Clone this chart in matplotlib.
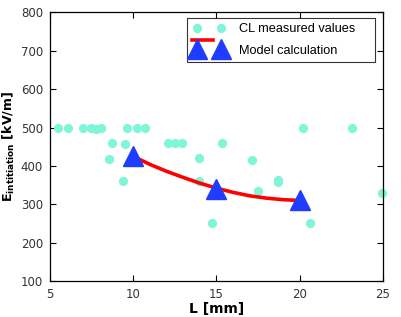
import matplotlib
matplotlib.use("Agg")
import matplotlib.pyplot as plt
from matplotlib.lines import Line2D
from matplotlib.legend_handler import HandlerLine2D, HandlerTuple

# Measured values (CL)
meas_L = [5.5, 6.1, 7.0, 7.45, 7.75, 8.05, 9.6, 10.2, 10.7, 20.2, 23.15,
          8.75, 9.5, 12.1, 12.5, 12.9, 15.35,
          8.55, 9.4, 10.0, 13.95, 13.95, 14.7, 20.6, 17.15, 17.5, 18.7, 18.7, 24.95]
meas_E = [500, 500, 500, 500, 495, 500, 500, 500, 500, 500, 500,
          460, 457, 460, 460, 460, 460,
          418, 360, 415, 420, 361, 250, 250, 415, 335, 363, 358, 330]

# Model calculation points
model_L = [10, 15, 20]
model_E = [425, 340, 310]

# Model curve
curve_L = [10, 11, 12, 13, 14, 15, 16, 17, 18, 19, 20]
curve_E = [425, 404, 386, 370, 355, 342, 331, 322, 316, 312, 310]

legend_labels = ["CL measured values", "Model calculation"]
xticks = [5, 10, 15, 20, 25]
yticks = [100, 200, 300, 400, 500, 600, 700, 800]

fig = plt.figure(figsize=(4.02, 3.17), dpi=100)
ax = fig.add_axes([0.1244, 0.1136, 0.8283, 0.847])

cyan = "#7ff6d8"
blue = "#1f3cff"

ax.plot(meas_L, meas_E, linestyle="none", marker="o", markersize=5.6,
        color=cyan, markeredgecolor=cyan, zorder=2, clip_on=False)
ax.plot(curve_L, curve_E, color="#ff0000", linewidth=2.6, zorder=3,
        solid_capstyle="butt")
ax.plot(model_L, model_E, linestyle="none", marker="^", markersize=14,
        color=blue, markeredgecolor=blue, zorder=4)

ax.set_xlim(5, 25)
ax.set_ylim(100, 800)
ax.set_xticks(xticks)
ax.set_yticks(yticks)
ax.tick_params(direction="in", top=True, right=True, length=4, width=0.8,
               labelsize=8.5, labelcolor="#333333", pad=5)
for sp in ax.spines.values():
    sp.set_linewidth(0.9)
    sp.set_color("black")

ax.set_xlabel("L [mm]", fontsize=10, fontweight="bold", labelpad=1)
ax.set_ylabel(r"E$_{\mathbf{intitiation}}$ [kV/m]", fontsize=9.1,
              fontweight="bold", labelpad=3)


class HandlerShiftedLine(HandlerLine2D):
    def create_artists(self, legend, orig_handle, xdescent, ydescent,
                       width, height, fontsize, trans):
        arts = super().create_artists(legend, orig_handle, xdescent + 3,
                                      ydescent - 14, width - 3, height,
                                      fontsize, trans)
        return arts


h1 = Line2D([], [], linestyle="none", marker="o", markersize=5.6,
            color=cyan, markeredgecolor=cyan)
h_line = Line2D([], [], color="#ff0000", linewidth=2.6)
h_tri = Line2D([], [], linestyle="none", marker="^", markersize=14,
               markerfacecolor=blue, markeredgecolor=blue)
leg = ax.legend([h1, (h_line, h_tri)], [s + "    " for s in legend_labels],
                loc="upper right", bbox_to_anchor=(0.976, 0.9795),
                borderaxespad=0, numpoints=2,
                handler_map={h_line: HandlerShiftedLine(),
                             tuple: HandlerTuple(ndivide=1)},
                prop={"family": "Liberation Sans", "size": 9.2},
                frameon=True, fancybox=False, handlelength=2.5,
                borderpad=0.42, labelspacing=0.75, handletextpad=1.15)
leg.get_frame().set_edgecolor("black")
leg.get_frame().set_linewidth(0.8)

fig.savefig("out.png", dpi=100)
